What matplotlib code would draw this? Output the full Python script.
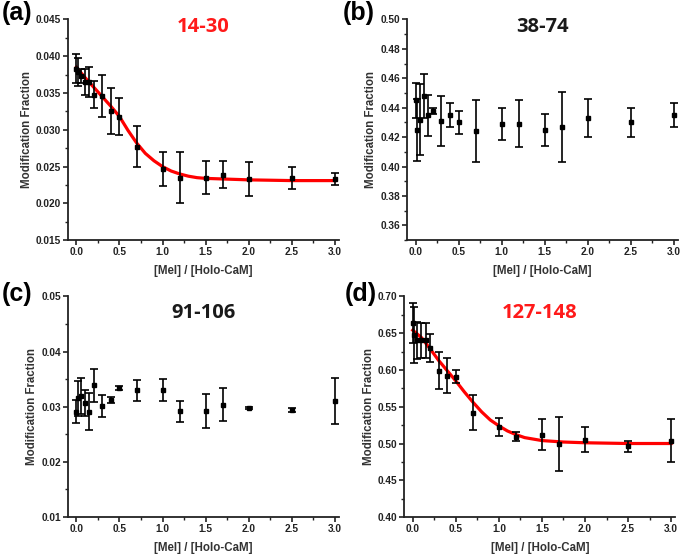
import matplotlib
matplotlib.use("Agg")
import matplotlib.pyplot as plt
from matplotlib.ticker import MultipleLocator, FormatStrFormatter

plt.rcParams['font.family'] = ['Liberation Sans', 'DejaVu Sans']

# molar ratio [Mel]/[Holo-CaM], same for all four peptides
ratio = [0, 0.02, 0.05, 0.1, 0.15, 0.2, 0.3, 0.4, 0.5, 0.7, 1.0, 1.2, 1.5, 1.7, 2.0, 2.5, 3.0]

# (a) peptide 14-30
frac_a = [0.0383, 0.0379, 0.0373, 0.0365, 0.0365, 0.0348, 0.0346, 0.0326, 0.0318, 0.0277,
          0.0247, 0.0235, 0.0235, 0.0239, 0.0233, 0.0234, 0.0233]
err_a = [0.0020, 0.0019, 0.0009, 0.0018, 0.0021, 0.0019, 0.0029, 0.0031, 0.0025, 0.0028,
         0.0023, 0.0035, 0.0022, 0.0018, 0.0023, 0.0015, 0.0008]
fit_x_a = [0, 0.1, 0.2, 0.3, 0.4, 0.5, 0.6, 0.7, 0.8, 0.9, 1.0, 1.1, 1.2, 1.3, 1.4, 1.5, 1.75, 2.0, 2.5, 3.0]
fit_y_a = [0.0385, 0.0371, 0.0358, 0.0345, 0.0332, 0.0318, 0.0299, 0.0282, 0.0268, 0.0258,
           0.0250, 0.0244, 0.0240, 0.0237, 0.0235, 0.0234, 0.0233, 0.0232, 0.0231, 0.0231]

# (b) peptide 38-74
frac_b = [0.445, 0.425, 0.432, 0.448, 0.435, 0.438, 0.431, 0.435, 0.430, 0.424,
          0.429, 0.429, 0.425, 0.427, 0.433, 0.430, 0.435]
err_b = [0.012, 0.021, 0.024, 0.015, 0.014, 0.002, 0.017, 0.008, 0.008, 0.021,
         0.011, 0.016, 0.011, 0.024, 0.013, 0.010, 0.008]

# (c) peptide 91-106
frac_c = [0.0291, 0.0315, 0.0319, 0.0307, 0.0291, 0.0339, 0.0301, 0.0312, 0.0334, 0.0330,
          0.0331, 0.0292, 0.0292, 0.0304, 0.0298, 0.0294, 0.0310]
err_c = [0.0021, 0.0032, 0.0033, 0.0023, 0.0033, 0.0030, 0.0020, 0.0005, 0.0003, 0.0019,
         0.0020, 0.0019, 0.0031, 0.0030, 0.0002, 0.0003, 0.0042]

# (d) peptide 127-148
frac_d = [0.6635, 0.648, 0.640, 0.640, 0.640, 0.630, 0.599, 0.592, 0.591, 0.542,
          0.522, 0.509, 0.512, 0.499, 0.505, 0.496, 0.504]
err_d = [0.027, 0.038, 0.025, 0.024, 0.024, 0.019, 0.025, 0.024, 0.009, 0.024,
         0.012, 0.006, 0.021, 0.037, 0.017, 0.007, 0.029]
fit_x_d = [0, 0.1, 0.2, 0.3, 0.4, 0.5, 0.6, 0.7, 0.8, 0.9, 1.0, 1.1, 1.2, 1.3, 1.4, 1.5, 1.75, 2.0, 2.5, 3.0]
fit_y_d = [0.654, 0.644, 0.629, 0.613, 0.599, 0.585, 0.570, 0.556, 0.543, 0.532,
           0.524, 0.517, 0.512, 0.508, 0.506, 0.504, 0.502, 0.501, 0.500, 0.500]

fig = plt.figure(figsize=(6.85, 5.56), dpi=100)

axes_pos = {'a': [0.099, 0.568, 0.396, 0.397],
            'b': [0.594, 0.568, 0.396, 0.397],
            'c': [0.099, 0.070, 0.396, 0.397],
            'd': [0.590, 0.070, 0.396, 0.397]}

grey = '#222222'


def panel(key, y, err, ylim, major, fmt, title, title_color, title_y, fit=None):
    ax = fig.add_axes(axes_pos[key])
    if fit is not None:
        ax.plot(fit[0], fit[1], color='#ff0000', lw=2.3, zorder=1)
    ax.errorbar(ratio, y, yerr=err, fmt='s', color='black', ms=3.5,
                elinewidth=1.2, capsize=2.8, capthick=1.2, zorder=3)
    ax.set_xlim(-0.1, 3.05)
    ax.set_ylim(*ylim)
    ax.xaxis.set_major_locator(MultipleLocator(0.5))
    ax.xaxis.set_minor_locator(MultipleLocator(0.25))
    ax.yaxis.set_major_locator(MultipleLocator(major))
    ax.yaxis.set_minor_locator(MultipleLocator(major / 2))
    ax.xaxis.set_major_formatter(FormatStrFormatter('%.1f'))
    ax.yaxis.set_major_formatter(FormatStrFormatter(fmt))
    for s in ['top', 'right']:
        ax.spines[s].set_visible(False)
    for s in ['left', 'bottom']:
        ax.spines[s].set_linewidth(1.3)
        ax.spines[s].set_color(grey)
    ax.tick_params(which='major', direction='out', length=3.5, width=1.2, color=grey,
                   labelsize=7.3, labelcolor=grey, pad=1.5)
    ax.tick_params(which='minor', direction='out', length=2, width=1.0, color=grey)
    for lab in ax.get_xticklabels() + ax.get_yticklabels():
        lab.set_fontweight('bold')
    ax.set_ylabel('Modification Fraction', fontsize=8.3, fontweight='bold', color='#333333', labelpad=2)
    ax.set_xlabel('[Mel] / [Holo-CaM]', fontsize=8.3, fontweight='bold', color='#333333', labelpad=6)
    ax.text(0.5, title_y, title, transform=ax.transAxes, ha='center', va='center',
            fontsize=14.5, fontweight='bold', color=title_color, family=['Open Sans', 'DejaVu Sans'])
    return ax


panel('a', frac_a, err_a, (0.015, 0.045), 0.005, '%.3f', '14-30', '#ff1a1a', 0.965, fit=(fit_x_a, fit_y_a))
panel('b', frac_b, err_b, (0.35, 0.50), 0.02, '%.2f', '38-74', '#1a1a1a', 0.965)
panel('c', frac_c, err_c, (0.01, 0.05), 0.01, '%.2f', '91-106', '#1a1a1a', 0.925)
panel('d', frac_d, err_d, (0.40, 0.70), 0.05, '%.2f', '127-148', '#ff1a1a', 0.925, fit=(fit_x_d, fit_y_d))

# panel letters
for lab, x, y in [('(a)', 0.003, 0.998), ('(b)', 0.500, 0.998), ('(c)', 0.003, 0.493), ('(d)', 0.503, 0.493)]:
    fig.text(x, y, lab, ha='left', va='top', fontsize=18, fontweight='bold', color='black')

fig.savefig('out.png', dpi=100)
